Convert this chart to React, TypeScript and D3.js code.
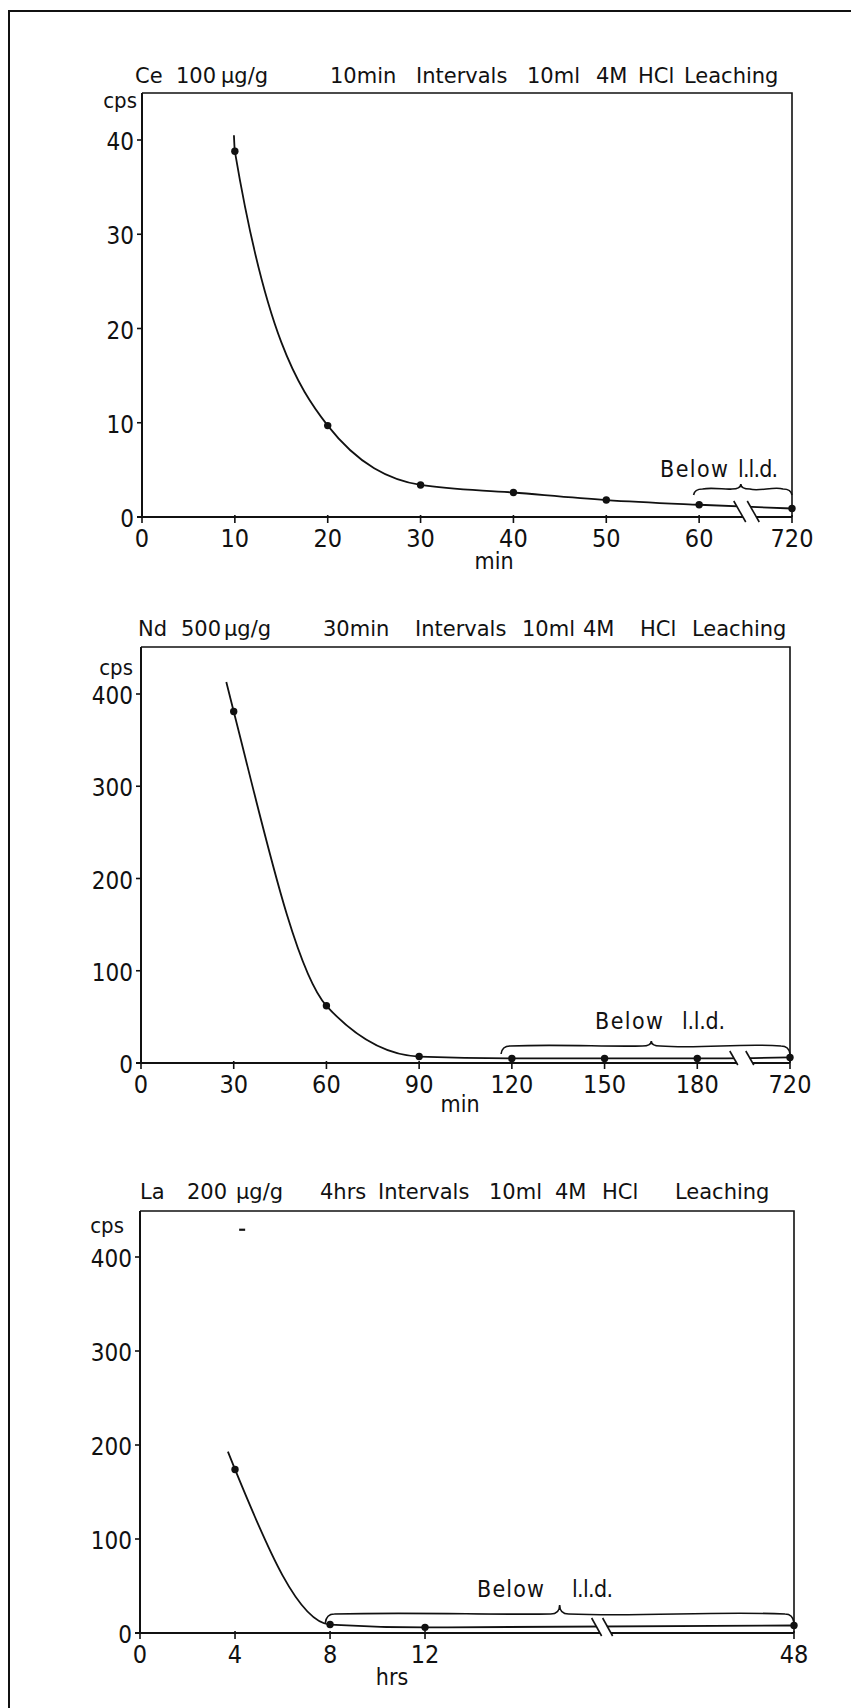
import React from 'react';
import * as d3 from 'd3';

// ---------------- data ----------------
// Ce 100 µg/g, 10 min intervals
const ceXTicks = [0, 10, 20, 30, 40, 50, 60, 720];
const ceYTicks = [0, 10, 20, 30, 40];
const ceTime = [10, 20, 30, 40, 50, 60, 720];
const ceCps = [38.8, 9.7, 3.4, 2.6, 1.8, 1.3, 0.9];
const ceLeadIn: [number, number] = [9.9, 40.5];

// Nd 500 µg/g, 30 min intervals
const ndXTicks = [0, 30, 60, 90, 120, 150, 180, 720];
const ndYTicks = [0, 100, 200, 300, 400];
const ndTime = [30, 60, 90, 120, 150, 180, 720];
const ndCps = [381, 62, 7, 5, 5, 5, 6];
const ndLeadIn: [number, number] = [27.6, 413];

// La 200 µg/g, 4 hrs intervals
const laXTicks = [0, 4, 8, 12, 48];
const laYTicks = [0, 100, 200, 300, 400];
const laTime = [4, 8, 12, 48];
const laCps = [174, 9, 6, 8];
const laLeadIn: [number, number] = [3.7, 193];
const laSpeck: [number, number] = [4.3, 429];

// ---------------- layout ----------------
const FONT = "'DejaVu Sans Condensed', 'DejaVu Sans', sans-serif";
const TFONT = "'DejaVu Sans', sans-serif";
const INK = '#111';

type Seg = [string, number];

const ceTitle: Seg[] = [
  ['Ce', 135], ['100', 176], ['µg/g', 221], ['10min', 330],
  ['Intervals', 416], ['10ml', 527], ['4M', 596], ['HCl', 638], ['Leaching', 684],
];
const ndTitle: Seg[] = [
  ['Nd', 138], ['500', 181], ['µg/g', 224], ['30min', 323],
  ['Intervals', 415], ['10ml', 522], ['4M', 583], ['HCl', 640], ['Leaching', 692],
];
const laTitle: Seg[] = [
  ['La', 140], ['200', 187], ['µg/g', 236], ['4hrs', 320],
  ['Intervals', 378], ['10ml', 489], ['4M', 555], ['HCl', 602], ['Leaching', 675],
];

const even = (n: number) => d3.range(n).map((i) => i / (n - 1));

const panels = [
  {
    title: ceTitle, titleY: 83,
    xTicks: ceXTicks, xFrac: even(ceXTicks.length), yTicks: ceYTicks,
    left: 142, right: 792, top: 93, bottom: 517, yTopTickPx: 140,
    xs: ceTime, ys: ceCps, leadIn: ceLeadIn, speck: null as [number, number] | null,
    xLabel: 'min', xLabelX: 494, xLabelY: 569,
    cps: { x: 137, y: 108 },
    brace: { from: 59.4, to: 720, tip: 0.48, hEnd: 22, hBody: 28, hTip: 33 },
    below: { b: 660, bw: 68, l: 738, lw: 40, y: 477 },
    brk: { frac: 0.51, gap: 13.5, dx: 12, up: 16, down: 5 },
  },
  {
    title: ndTitle, titleY: 636,
    xTicks: ndXTicks, xFrac: even(ndXTicks.length), yTicks: ndYTicks,
    left: 141, right: 790, top: 647, bottom: 1063, yTopTickPx: 694,
    xs: ndTime, ys: ndCps, leadIn: ndLeadIn, speck: null as [number, number] | null,
    xLabel: 'min', xLabelX: 460, xLabelY: 1112,
    cps: { x: 133, y: 675 },
    brace: { from: 116.5, to: 720, tip: 0.52, hEnd: 9, hBody: 17, hTip: 22 },
    below: { b: 595, bw: 68, l: 682, lw: 43, y: 1029 },
    brk: { frac: 0.48, gap: 16, dx: 8, up: 12, down: 2 },
  },
  {
    title: laTitle, titleY: 1199,
    xTicks: laXTicks, xFrac: [0, 0.1453, 0.2906, 0.4358, 1], yTicks: laYTicks,
    left: 140, right: 794, top: 1211, bottom: 1633, yTopTickPx: 1257,
    xs: laTime, ys: laCps, leadIn: laLeadIn, speck: laSpeck,
    xLabel: 'hrs', xLabelX: 392, xLabelY: 1685,
    cps: { x: 124, y: 1233 },
    brace: { from: 7.8, to: 48, tip: 0.5, hEnd: 10, hBody: 19, hTip: 28 },
    below: { b: 477, bw: 67, l: 572, lw: 41, y: 1597 },
    brk: { frac: 0.48, gap: 11, dx: 10, up: 15, down: 3 },
  },
];

function Panel({ p }: { p: (typeof panels)[number] }) {
  const x = d3
    .scaleLinear()
    .domain(p.xTicks)
    .range(p.xFrac.map((f) => p.left + f * (p.right - p.left)));
  const yMax = p.yTicks[p.yTicks.length - 1];
  const y = d3.scaleLinear().domain([0, yMax]).range([p.bottom, p.yTopTickPx]);

  const pts: [number, number][] = p.xs.map((t, i) => [t, p.ys[i]]);
  const line = d3
    .line<[number, number]>()
    .x((d) => x(d[0]))
    .y((d) => y(d[1]))
    .curve(d3.curveMonotoneX);
  const curvePath = line([p.leadIn, ...pts]) || '';

  // axis break between the last two ticks
  const n = p.xTicks.length;
  const bx = x(p.xTicks[n - 2]) + p.brk.frac * (x(p.xTicks[n - 1]) - x(p.xTicks[n - 2]));
  const c1 = bx - p.brk.gap / 2;
  const c2 = bx + p.brk.gap / 2;
  const bTop = p.bottom - p.brk.up;
  const bBot = p.bottom + p.brk.down;
  const hdx = p.brk.dx / 2;

  // curly brace
  const bx0 = x(p.brace.from);
  const bx1 = x(p.brace.to);
  const bt = bx0 + p.brace.tip * (bx1 - bx0);
  const yEnd = p.bottom - p.brace.hEnd;
  const yBody = p.bottom - p.brace.hBody;
  const yTip = p.bottom - p.brace.hTip;
  const r = 9;
  const bp = d3.path();
  bp.moveTo(bx0, yEnd);
  bp.quadraticCurveTo(bx0 + 1, yBody, bx0 + r, yBody);
  bp.bezierCurveTo(bx0 + (bt - bx0) * 0.4, yBody - 2, bx0 + (bt - bx0) * 0.7, yBody + 1, bt - r, yBody);
  bp.quadraticCurveTo(bt, yBody, bt, yTip);
  bp.quadraticCurveTo(bt, yBody, bt + r, yBody);
  bp.bezierCurveTo(bt + (bx1 - bt) * 0.35, yBody + 3, bx1 - (bx1 - bt) * 0.35, yBody - 3, bx1 - r, yBody);
  bp.quadraticCurveTo(bx1 - 1, yBody, bx1, yEnd);

  return (
    <g>
      {/* title */}
      {p.title.map(([t, a]) => (
        <text key={t + a} x={a} y={p.titleY} fontSize={21} fontFamily={TFONT} fill={INK}>{t}</text>
      ))}
      {/* box */}
      <path d={`M${p.left},${p.top}H${p.right}V${p.bottom}`} fill="none" stroke={INK} strokeWidth={1.6} />
      {/* axes */}
      <line x1={p.left} y1={p.top} x2={p.left} y2={p.bottom + 1} stroke={INK} strokeWidth={2} />
      <line x1={p.left - 5} y1={p.bottom} x2={p.right} y2={p.bottom} stroke={INK} strokeWidth={2} />
      {/* y ticks */}
      {p.yTicks.map((v) => (
        <g key={'y' + v}>
          <line x1={p.left - 5} x2={p.left} y1={y(v)} y2={y(v)} stroke={INK} strokeWidth={1.6} />
          <text x={p.left - 8} y={y(v) + 2} textAnchor="end" dominantBaseline="central"
            fontSize={24} fontFamily={FONT} fill={INK}>{v}</text>
        </g>
      ))}
      {/* x ticks */}
      {p.xTicks.map((v) => (
        <g key={'x' + v}>
          <line x1={x(v)} x2={x(v)} y1={p.bottom - 2} y2={p.bottom + 6} stroke={INK} strokeWidth={1.6} />
          <text x={x(v)} y={p.bottom + 21} textAnchor="middle" dominantBaseline="central"
            fontSize={25} fontFamily={FONT} fill={INK}>{v}</text>
        </g>
      ))}
      <text x={p.cps.x} y={p.cps.y} textAnchor="end" fontSize={22} fontFamily={FONT} fill={INK}>cps</text>
      <text x={p.xLabelX} y={p.xLabelY} textAnchor="middle" fontSize={23} fontFamily={FONT} fill={INK}>{p.xLabel}</text>
      {/* curve */}
      <path d={curvePath} fill="none" stroke={INK} strokeWidth={1.8} />
      {/* break */}
      <polygon
        points={`${c1 - hdx},${bTop} ${c2 - hdx},${bTop} ${c2 + hdx},${bBot} ${c1 + hdx},${bBot}`}
        fill="#fff" stroke="none" />
      <line x1={c1 - hdx} y1={bTop} x2={c1 + hdx} y2={bBot} stroke={INK} strokeWidth={1.6} />
      <line x1={c2 - hdx} y1={bTop} x2={c2 + hdx} y2={bBot} stroke={INK} strokeWidth={1.6} />
      {/* points */}
      {pts.map((d, i) => (
        <circle key={'p' + i} cx={x(d[0])} cy={y(d[1])} r={3.7} fill={INK} />
      ))}
      {p.speck && (
        <line x1={x(p.speck[0]) - 3} x2={x(p.speck[0]) + 3} y1={y(p.speck[1])} y2={y(p.speck[1])}
          stroke={INK} strokeWidth={2.2} />
      )}
      {/* brace + label */}
      <path d={bp.toString()} fill="none" stroke={INK} strokeWidth={1.6} />
      <text x={p.below.b} y={p.below.y} fontSize={23} fontFamily={FONT} fill={INK}
        textLength={p.below.bw} lengthAdjust="spacing">Below</text>
      <text x={p.below.l} y={p.below.y} fontSize={23} fontFamily={FONT} fill={INK}
        textLength={p.below.lw} lengthAdjust="spacing">l.l.d.</text>
    </g>
  );
}

export default function App() {
  return (
    <svg width={851} height={1708} viewBox="0 0 851 1708"
      style={{ position: 'absolute', left: 0, top: 0, display: 'block', background: '#fff' }}>
      <rect x={0} y={0} width={851} height={1708} fill="#fff" />
      <path d="M9,1708V11H851" fill="none" stroke={INK} strokeWidth={2} />
      {panels.map((p, i) => (
        <Panel key={i} p={p} />
      ))}
    </svg>
  );
}
